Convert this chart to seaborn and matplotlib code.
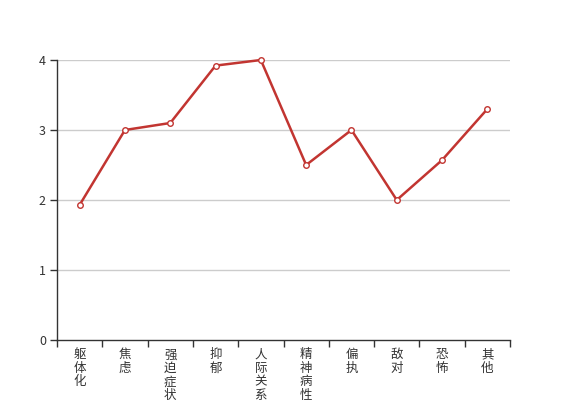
import matplotlib
matplotlib.use('Agg')
import matplotlib.pyplot as plt
import seaborn as sns
import pandas as pd

sns.set_style('white')
plt.rcParams['font.family'] = ['Noto Sans CJK SC', 'DejaVu Sans']

categories = ['躯体化', '焦虑', '强迫症状', '抑郁', '人际关系敏感',
              '精神病性', '偏执', '敌对', '恐怖', '其他']
scores = [1.93, 3.0, 3.1, 3.92, 4.0, 2.5, 3.0, 2.0, 2.57, 3.3]
y_ticks = [0, 1, 2, 3, 4]

df = pd.DataFrame({'cat': categories, 'score': scores})
df['pos'] = range(len(df))

fig = plt.figure(figsize=(5.67, 4.0), dpi=100)
ax = fig.add_axes([57/567, 60/400, 453/567, 280/400])

line_color = '#c23531'
sns.lineplot(data=df, x='pos', y='score', ax=ax, color=line_color, lw=1.8,
             marker='o', markersize=4, markerfacecolor='white',
             markeredgecolor=line_color, markeredgewidth=1, sort=False,
             zorder=3, clip_on=False)

ax.set_xlim(-0.5, len(categories) - 0.5)
ax.set_ylim(0, 4)
ax.set_yticks(y_ticks)
ax.set_yticklabels([str(t) for t in y_ticks])
for t in y_ticks[1:]:
    ax.axhline(t, color='#cccccc', lw=1, zorder=1)

# labels at band centres, ticks at band edges
ax.set_xticks(df['pos'])
ax.set_xticklabels(['\n'.join(c) for c in categories], linespacing=1.05,
                   va='top', fontsize=9, color='#333333')
ax.set_xticks([i - 0.5 for i in range(len(categories) + 1)], minor=True)
ax.tick_params(axis='x', which='both', bottom=True)
ax.tick_params(axis='x', which='major', length=0, pad=6)
ax.tick_params(axis='x', which='minor', length=5, width=1, color='#333333')
ax.tick_params(axis='y', left=True, length=5, width=1, color='#333333',
               labelsize=9, labelcolor='#333333', pad=3)

for s in ['top', 'right']:
    ax.spines[s].set_visible(False)
for s in ['left', 'bottom']:
    ax.spines[s].set_color('#333333')
    ax.spines[s].set_linewidth(1)

ax.set_xlabel('')
ax.set_ylabel('')

fig.savefig('out.png', dpi=100)
